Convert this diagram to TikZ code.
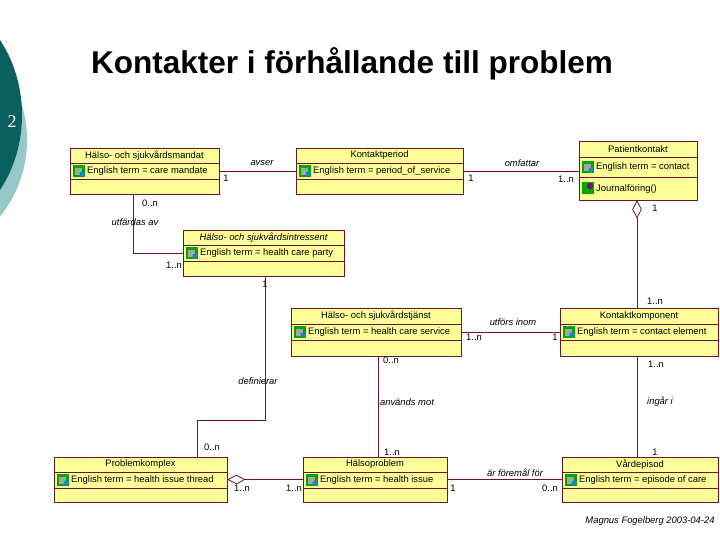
\documentclass[tikz,border=0pt]{standalone}
\usepackage{fontspec}
\setmainfont{Liberation Sans}
\usetikzlibrary{shapes.geometric}
\definecolor{cyel}{RGB}{255,255,153}
\definecolor{cred}{RGB}{110,20,40}
\definecolor{dteal}{RGB}{10,95,95}
\definecolor{lteal}{RGB}{150,200,200}
\tikzset{
 cbox/.style={draw=cred,fill=cyel,line width=0.9pt,inner sep=0pt},
 cline/.style={draw=cred,line width=0.9pt},
 ttl/.style={font=\fontsize{9.4}{11}\selectfont,inner sep=0pt},
 attr/.style={font=\fontsize{9.4}{11}\selectfont,inner sep=0pt,anchor=west},
 lab/.style={font=\fontsize{9.4}{11}\selectfont\itshape,inner sep=0pt},
 mult/.style={font=\fontsize{9.4}{11}\selectfont,inner sep=0pt},
 conn/.style={draw=cred,line width=0.9pt},
}
\newcommand\iconat[2]{%
 \fill[green!65!black] (#1-6,#2-6) rectangle (#1+6,#2+6);
 \fill[gray!70] (#1-4,#2-3) rectangle (#1+3,#2+4);
 \fill[cyan!70!blue] (#1+3,#2+3) circle (2.5);}
% name x1 y1 x2 y2 title attr div1 div2
\newcommand\umlcls[9]{%
 \node[cbox,minimum width={(#4-#2)*1pt},minimum height={(#5-#3)*1pt}] (#1) at ({(#2+#4)/2},{(#3+#5)/2}) {};
 \draw[cline] (#2,#3+#8) -- (#4,#3+#8);
 \draw[cline] (#2,#3+#9) -- (#4,#3+#9);
 \node[ttl] (#1t) at ({(#2+#4)/2},{#3+#8/2}) {#6};
 \iconat{#2+9}{#3+#8/2+#9/2}
 \node[attr] (#1a) at (#2+17,{#3+#8/2+#9/2}) {#7};}
\begin{document}
\begin{tikzpicture}[x=1pt,y=-1pt]
\useasboundingbox (0,0) rectangle (720,540);
\fill[lteal] (-80,140) ellipse [x radius=107, y radius=115];
\fill[dteal] (-88,115) ellipse [x radius=110, y radius=125];
\node[text=white,font=\fontspec{Liberation Serif}\fontsize{18}{20}\selectfont] (num) at (12,122) {2};
\node[font=\fontsize{31.5}{34}\selectfont\bfseries] (title) at (352,64) {Kontakter i förhållande till problem};

\umlcls{mand}{70}{148}{219}{194}{Hälso- och sjukvårdsmandat}{English term = care mandate}{15}{31}
\umlcls{per}{296}{148}{463}{194}{Kontaktperiod}{English term = period\_of\_service}{15}{31}
\umlcls{pk}{579}{141}{697}{200}{Patientkontakt}{English term = contact}{16}{36}
\umlcls{intr}{183}{230}{344}{276}{\itshape Hälso- och sjukvårdsintressent}{English term = health care party}{15}{31}
\umlcls{tj}{291}{308}{461}{356}{Hälso- och sjukvårdstjänst}{English term = health care service}{16}{32}
\umlcls{kk}{560}{308}{718}{356}{Kontaktkomponent}{English term = contact element}{16}{32}
\umlcls{prk}{54}{457}{227}{502}{Problemkomplex}{English term = health issue thread}{15}{31}
\umlcls{hp}{303}{457}{447}{502}{Hälsoproblem}{English term = health issue}{15}{31}
\umlcls{ve}{562}{457}{718}{502}{Vårdepisod}{English term = episode of care}{15}{31}
% operation of Patientkontakt
\fill[green!65!black] (582,182) rectangle (594,194);
\fill[violet] (590,186) circle (3);
\node[attr] (pkop) at (596,189) {Journalföring()};

\coordinate (xa) at (133,0);
\coordinate (xb) at (265,0);
\coordinate (xc) at (197,0);
\coordinate (xd) at (378,0);
\coordinate (xe) at (637,0);
\coordinate (ya) at (0,253);
\coordinate (yb) at (0,420);

\draw[conn] (mand.east) -- (per.west);
\draw[conn] (per.east) -- (per.east -| pk.west);
\draw[conn] (mand.south -| xa) |- (intr.west |- ya);
\draw[conn] (intr.south -| xb) -- (xb |- yb) -| (prk.north -| xc);
\draw[conn] (tj.east) -- (kk.west);
\coordinate (d1) at (pk.south -| xe);
\node[diamond,draw=cred,fill=white,line width=0.8pt,minimum width=9pt,minimum height=17pt,inner sep=0pt,anchor=north] (dia1) at (d1) {};
\draw[conn] (dia1.south) -- (kk.north -| dia1.south);
\draw[conn] (tj.south -| xd) -- (hp.north -| xd);
\draw[conn] (kk.south -| xe) -- (ve.north -| xe);
\node[diamond,draw=cred,fill=white,line width=0.8pt,minimum width=17pt,minimum height=9pt,inner sep=0pt,anchor=west] (dia2) at (prk.east) {};
\draw[conn] (dia2.east) -- (hp.west);
\draw[conn] (hp.east) -- (ve.west);

\node[lab] (l1) at (262,163) {avser};
\node[mult] (m1) at (226,178) {1};
\node[lab] (l2) at (522,163) {omfattar};
\node[mult] (m2) at (471,178) {1};
\node[mult] (m3) at (566,179) {1..n};
\node[mult] (m4) at (150,203) {0..n};
\node[lab] (l3) at (135,222) {utfärdas av};
\node[mult] (m5) at (174,265) {1..n};
\node[mult] (m6) at (655,208) {1};
\node[mult] (m7) at (265,284) {1};
\node[mult] (m8) at (655,301) {1..n};
\node[lab] (l4) at (513,322) {utförs inom};
\node[mult] (m9) at (474,337) {1..n};
\node[mult] (m10) at (555,337) {1};
\node[mult] (m11) at (391,360) {0..n};
\node[mult] (m12) at (656,364) {1..n};
\node[lab] (l5) at (258,381) {definierar};
\node[lab] (l6) at (407,402) {används mot};
\node[lab] (l7) at (660,402) {ingår i};
\node[mult] (m13) at (212,447) {0..n};
\node[mult] (m14) at (392,452) {1..n};
\node[mult] (m15) at (655,452) {1};
\node[mult] (m16) at (242,488) {1..n};
\node[mult] (m17) at (294,488) {1..n};
\node[lab] (l8) at (515,473) {är föremål för};
\node[mult] (m18) at (453,488) {1};
\node[mult] (m19) at (550,488) {0..n};
\node[lab] (sig) at (650,521) {Magnus Fogelberg 2003-04-24};
\end{tikzpicture}
\end{document}
